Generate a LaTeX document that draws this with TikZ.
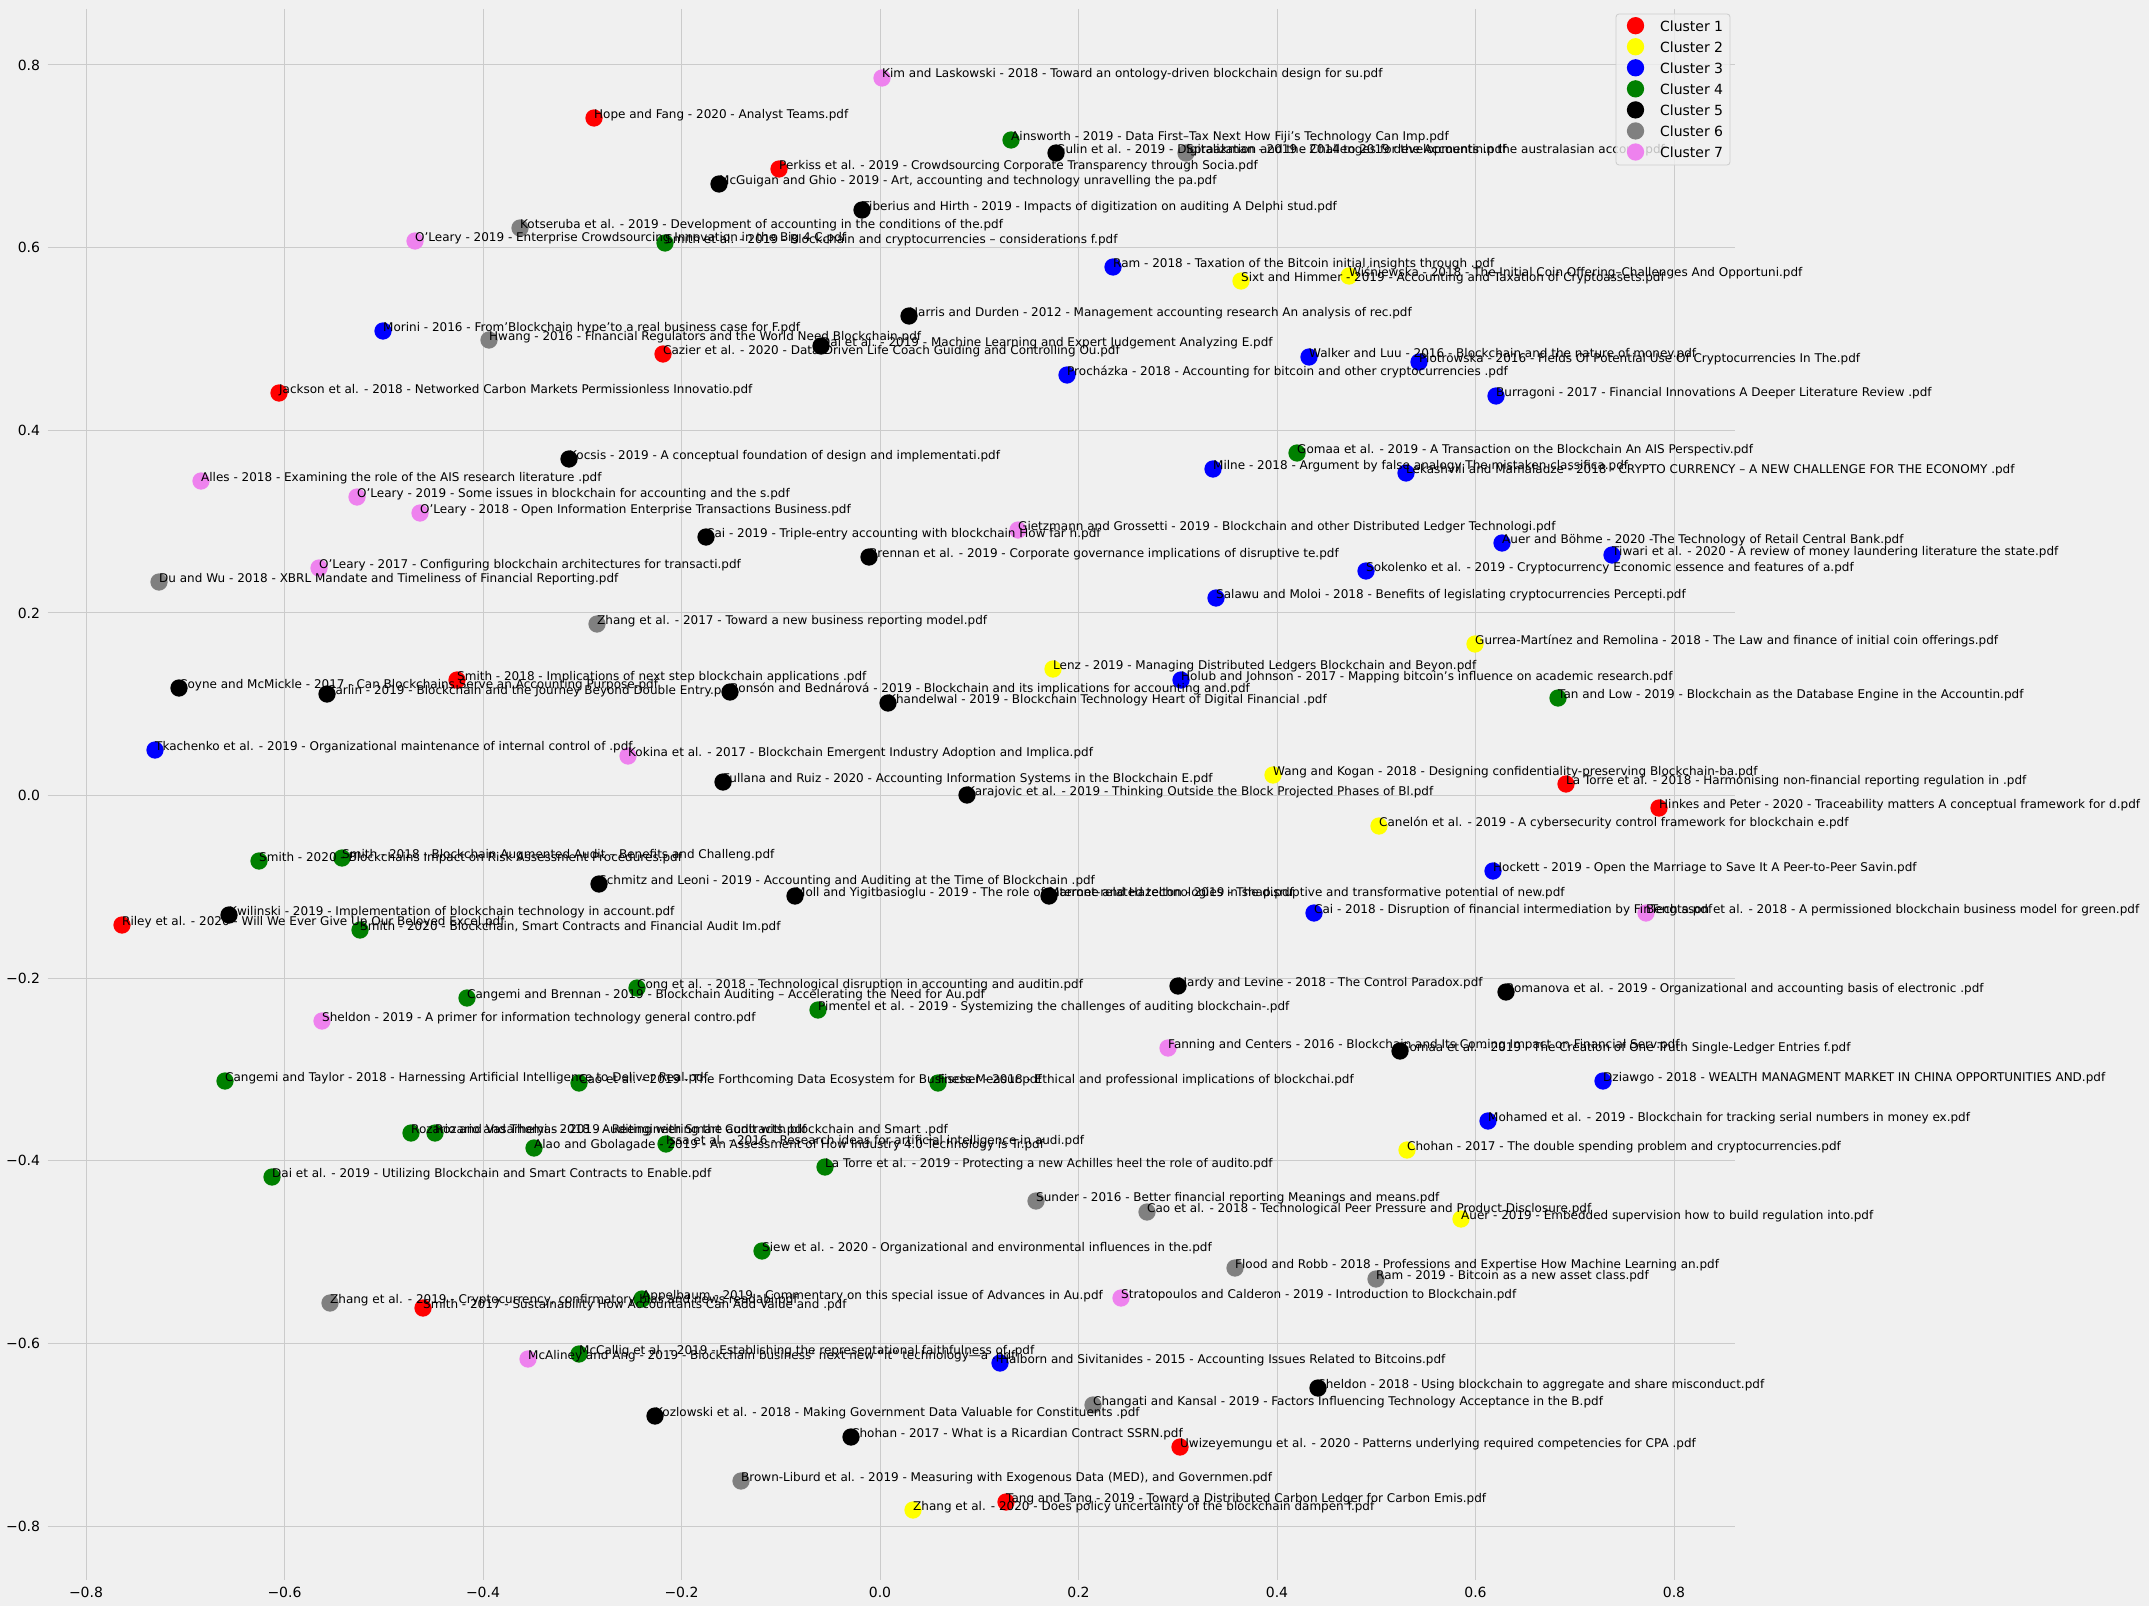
\documentclass[tikz,border=0pt]{standalone}
\usepackage{fontspec}
\setmainfont{DejaVu Sans}
\definecolor{bgc}{HTML}{F0F0F0}
\definecolor{gridc}{HTML}{CBCBCB}
\definecolor{legc}{HTML}{CCCCCC}
\definecolor{cred}{HTML}{FF0000}
\definecolor{cyellow}{HTML}{FFFF00}
\definecolor{cblue}{HTML}{0000FF}
\definecolor{cgreen}{HTML}{008000}
\definecolor{cgray}{HTML}{808080}
\definecolor{cviolet}{HTML}{EE82EE}
\newcommand\lblfont{\fontsize{12bp}{14bp}\selectfont}
\newcommand\tickfont{\fontsize{14bp}{16bp}\selectfont}
\newcommand\pts{%
\P{1}{882}{78}{cviolet}{Kim and Laskowski - 2018 - Toward an ontology-driven blockchain design for su.pdf}%
\P{2}{594}{118}{cred}{Hope and Fang - 2020 - Analyst Teams.pdf}%
\P{3}{1011}{140}{cgreen}{Ainsworth - 2019 - Data First–Tax Next How Fiji’s Technology Can Imp.pdf}%
\P{4}{1056}{153}{black}{Gulin et al. - 2019 - Digitalization and the Challenges for the Accountin.pdf}%
\P{5}{1186}{153}{cgray}{Spraakman - 2019 - 2014 to 2019 developments in the australasian accoun.pdf}%
\P{6}{779}{169}{cred}{Perkiss et al. - 2019 - Crowdsourcing Corporate Transparency through Socia.pdf}%
\P{7}{719}{184}{black}{McGuigan and Ghio - 2019 - Art, accounting and technology unravelling the pa.pdf}%
\P{8}{862}{210}{black}{Tiberius and Hirth - 2019 - Impacts of digitization on auditing A Delphi stud.pdf}%
\P{9}{520}{228}{cgray}{Kotseruba et al. - 2019 - Development of accounting in the conditions of the.pdf}%
\P{10}{415}{241}{cviolet}{O'Leary - 2019 - Enterprise Crowdsourcing Innovation in the Big 4 C.pdf}%
\P{11}{665}{243}{cgreen}{Smith et al. - 2019 - Blockchain and cryptocurrencies – considerations f.pdf}%
\P{12}{1113}{267}{cblue}{Ram - 2018 - Taxation of the Bitcoin initial insights through .pdf}%
\P{13}{1241}{281}{cyellow}{Sixt and Himmer - 2019 - Accounting and Taxation of Cryptoassets.pdf}%
\P{14}{1349}{276}{cyellow}{Wiśniewska - 2018 - The Initial Coin Offering–Challenges And Opportuni.pdf}%
\P{15}{909}{316}{black}{Harris and Durden - 2012 - Management accounting research An analysis of rec.pdf}%
\P{16}{383}{331}{cblue}{Morini - 2016 - From'Blockchain hype'to a real business case for F.pdf}%
\P{17}{489}{340}{cgray}{Hwang - 2016 - Financial Regulators and the World Need Blockchain.pdf}%
\P{18}{821}{346}{black}{Dai et al. - 2019 - Machine Learning and Expert Judgement Analyzing E.pdf}%
\P{19}{663}{354}{cred}{Cazier et al. - 2020 - Data-Driven Life Coach Guiding and Controlling Ou.pdf}%
\P{20}{1309}{357}{cblue}{Walker and Luu - 2016 - Blockchain and the nature of money.pdf}%
\P{21}{1419}{362}{cblue}{Piotrowska - 2016 - Fields Of Potential Use Of Cryptocurrencies In The.pdf}%
\P{22}{1067}{375}{cblue}{Procházka - 2018 - Accounting for bitcoin and other cryptocurrencies .pdf}%
\P{23}{279}{393}{cred}{Jackson et al. - 2018 - Networked Carbon Markets Permissionless Innovatio.pdf}%
\P{24}{1496}{396}{cblue}{Burragoni - 2017 - Financial Innovations A Deeper Literature Review .pdf}%
\P{25}{1297}{453}{cgreen}{Gomaa et al. - 2019 - A Transaction on the Blockchain An AIS Perspectiv.pdf}%
\P{26}{569}{459}{black}{Kocsis - 2019 - A conceptual foundation of design and implementati.pdf}%
\P{27}{1213}{469}{cblue}{Milne - 2018 - Argument by false analogy The mistaken classifica.pdf}%
\P{28}{1406}{473}{cblue}{Lekashvili and Mamaladze - 2018 - CRYPTO CURRENCY – A NEW CHALLENGE FOR THE ECONOMY .pdf}%
\P{29}{201}{481}{cviolet}{Alles - 2018 - Examining the role of the AIS research literature .pdf}%
\P{30}{357}{497}{cviolet}{O'Leary - 2019 - Some issues in blockchain for accounting and the s.pdf}%
\P{31}{420}{513}{cviolet}{O'Leary - 2018 - Open Information Enterprise Transactions Business.pdf}%
\P{32}{1018}{530}{cviolet}{Gietzmann and Grossetti - 2019 - Blockchain and other Distributed Ledger Technologi.pdf}%
\P{33}{706}{537}{black}{Cai - 2019 - Triple-entry accounting with blockchain How far h.pdf}%
\P{34}{1502}{543}{cblue}{Auer and Böhme - 2020 -The Technology of Retail Central Bank.pdf}%
\P{35}{1612}{555}{cblue}{Tiwari et al. - 2020 - A review of money laundering literature the state.pdf}%
\P{36}{869}{557}{black}{Brennan et al. - 2019 - Corporate governance implications of disruptive te.pdf}%
\P{37}{1366}{571}{cblue}{Sokolenko et al. - 2019 - Cryptocurrency Economic essence and features of a.pdf}%
\P{38}{319}{568}{cviolet}{O'Leary - 2017 - Configuring blockchain architectures for transacti.pdf}%
\P{39}{159}{582}{cgray}{Du and Wu - 2018 - XBRL Mandate and Timeliness of Financial Reporting.pdf}%
\P{40}{1216}{598}{cblue}{Salawu and Moloi - 2018 - Benefits of legislating cryptocurrencies Percepti.pdf}%
\P{41}{597}{624}{cgray}{Zhang et al. - 2017 - Toward a new business reporting model.pdf}%
\P{42}{1475}{644}{cyellow}{Gurrea-Martínez and Remolina - 2018 - The Law and finance of initial coin offerings.pdf}%
\P{43}{1053}{669}{cyellow}{Lenz - 2019 - Managing Distributed Ledgers Blockchain and Beyon.pdf}%
\P{44}{1181}{680}{cblue}{Holub and Johnson - 2017 - Mapping bitcoin's influence on academic research.pdf}%
\P{45}{457}{680}{cred}{Smith - 2018 - Implications of next step blockchain applications .pdf}%
\P{46}{179}{688}{black}{Coyne and McMickle - 2017 - Can Blockchains Serve an Accounting Purpose.pdf}%
\P{47}{327}{694}{black}{Carlin - 2019 - Blockchain and the Journey Beyond Double Entry.pdf}%
\P{48}{730}{692}{black}{Bonsón and Bednárová - 2019 - Blockchain and its implications for accounting and.pdf}%
\P{49}{888}{703}{black}{Khandelwal - 2019 - Blockchain Technology Heart of Digital Financial .pdf}%
\P{50}{1558}{698}{cgreen}{Tan and Low - 2019 - Blockchain as the Database Engine in the Accountin.pdf}%
\P{51}{155}{750}{cblue}{Tkachenko et al. - 2019 - Organizational maintenance of internal control of .pdf}%
\P{52}{628}{756}{cviolet}{Kokina et al. - 2017 - Blockchain Emergent Industry Adoption and Implica.pdf}%
\P{53}{1273}{775}{cyellow}{Wang and Kogan - 2018 - Designing confidentiality-preserving Blockchain-ba.pdf}%
\P{54}{723}{782}{black}{Fullana and Ruiz - 2020 - Accounting Information Systems in the Blockchain E.pdf}%
\P{55}{1566}{784}{cred}{La Torre et al. - 2018 - Harmonising non-financial reporting regulation in .pdf}%
\P{56}{967}{795}{black}{Karajovic et al. - 2019 - Thinking Outside the Block Projected Phases of Bl.pdf}%
\P{57}{1659}{808}{cred}{Hinkes and Peter - 2020 - Traceability matters A conceptual framework for d.pdf}%
\P{58}{1379}{826}{cyellow}{Canelón et al. - 2019 - A cybersecurity control framework for blockchain e.pdf}%
\P{59}{259}{861}{cgreen}{Smith - 2020 - Blockchains Impact on Risk Assessment Procedures.pdf}%
\P{60}{342}{858}{cgreen}{Smith - 2018 - Blockchain Augmented Audit – Benefits and Challeng.pdf}%
\P{61}{1493}{871}{cblue}{Hockett - 2019 - Open the Marriage to Save It A Peer-to-Peer Savin.pdf}%
\P{62}{599}{884}{black}{Schmitz and Leoni - 2019 - Accounting and Auditing at the Time of Blockchain .pdf}%
\P{63}{795}{896}{black}{Moll and Yigitbasioglu - 2019 - The role of internet-related technologies in shap.pdf}%
\P{64}{1049}{896}{black}{Marrone and Hazelton - 2019 - The disruptive and transformative potential of new.pdf}%
\P{65}{229}{915}{black}{Kwilinski - 2019 - Implementation of blockchain technology in account.pdf}%
\P{66}{1314}{913}{cblue}{Cai - 2018 - Disruption of financial intermediation by FinTech a.pdf}%
\P{67}{1646}{913}{cviolet}{Bengtsson et al. - 2018 - A permissioned blockchain business model for green.pdf}%
\P{68}{122}{925}{cred}{Riley et al. - 2020 - Will We Ever Give Up Our Beloved Excel.pdf}%
\P{69}{360}{930}{cgreen}{Smith - 2020 - Blockchain, Smart Contracts and Financial Audit Im.pdf}%
\P{70}{1178}{986}{black}{Hardy and Levine - 2018 - The Control Paradox.pdf}%
\P{71}{1506}{992}{black}{Romanova et al. - 2019 - Organizational and accounting basis of electronic .pdf}%
\P{72}{637}{988}{cgreen}{Cong et al. - 2018 - Technological disruption in accounting and auditin.pdf}%
\P{73}{467}{998}{cgreen}{Cangemi and Brennan - 2019 - Blockchain Auditing – Accelerating the Need for Au.pdf}%
\P{74}{818}{1010}{cgreen}{Pimentel et al. - 2019 - Systemizing the challenges of auditing blockchain-.pdf}%
\P{75}{322}{1021}{cviolet}{Sheldon - 2019 - A primer for information technology general contro.pdf}%
\P{76}{1168}{1048}{cviolet}{Fanning and Centers - 2016 - Blockchain and Its Coming Impact on Financial Serv.pdf}%
\P{77}{1400}{1051}{black}{Gomaa et al. - 2019 - The Creation of One Truth Single-Ledger Entries f.pdf}%
\P{78}{225}{1081}{cgreen}{Cangemi and Taylor - 2018 - Harnessing Artificial Intelligence to Deliver Real.pdf}%
\P{79}{579}{1083}{cgreen}{Cao et al. - 2019 - The Forthcoming Data Ecosystem for Business Measur.pdf}%
\P{80}{938}{1083}{cgreen}{Fischer - 2018 - Ethical and professional implications of blockchai.pdf}%
\P{81}{1603}{1081}{cblue}{Dziawgo - 2018 - WEALTH MANAGMENT MARKET IN CHINA OPPORTUNITIES AND.pdf}%
\P{82}{1488}{1121}{cblue}{Mohamed et al. - 2019 - Blockchain for tracking serial numbers in money ex.pdf}%
\P{83}{411}{1133}{cgreen}{Rozario and Vasarhelyi - 2018 - Auditing with Smart Contracts.pdf}%
\P{84}{435}{1133}{cgreen}{Rozario and Thomas - 2019 - Reengineering the audit with blockchain and Smart .pdf}%
\P{85}{534}{1148}{cgreen}{Alao and Gbolagade - 2019 - An Assessment of How Industry 4.0 Technology is Tr.pdf}%
\P{86}{666}{1144}{cgreen}{Issa et al. - 2016 - Research ideas for artificial intelligence in audi.pdf}%
\P{87}{1407}{1150}{cyellow}{Chohan - 2017 - The double spending problem and cryptocurrencies.pdf}%
\P{88}{825}{1167}{cgreen}{La Torre et al. - 2019 - Protecting a new Achilles heel the role of audito.pdf}%
\P{89}{272}{1177}{cgreen}{Dai et al. - 2019 - Utilizing Blockchain and Smart Contracts to Enable.pdf}%
\P{90}{1036}{1201}{cgray}{Sunder - 2016 - Better financial reporting Meanings and means.pdf}%
\P{91}{1147}{1212}{cgray}{Cao et al. - 2018 - Technological Peer Pressure and Product Disclosure.pdf}%
\P{92}{1461}{1219}{cyellow}{Auer - 2019 - Embedded supervision how to build regulation into.pdf}%
\P{93}{762}{1251}{cgreen}{Siew et al. - 2020 - Organizational and environmental influences in the.pdf}%
\P{94}{1235}{1268}{cgray}{Flood and Robb - 2018 - Professions and Expertise How Machine Learning an.pdf}%
\P{95}{1376}{1279}{cgray}{Ram - 2019 - Bitcoin as a new asset class.pdf}%
\P{96}{642}{1299}{cgreen}{Appelbaum - 2019 - Commentary on this special issue of Advances in Au.pdf}%
\P{97}{330}{1303}{cgray}{Zhang et al. - 2019 - Cryptocurrency, confirmatory bias and news readabi.pdf}%
\P{98}{423}{1308}{cred}{Smith - 2017 - Sustainability How Accountants Can Add Value and .pdf}%
\P{99}{1121}{1298}{cviolet}{Stratopoulos and Calderon - 2019 - Introduction to Blockchain.pdf}%
\P{100}{579}{1354}{cgreen}{McCallig et al. - 2019 - Establishing the representational faithfulness of .pdf}%
\P{101}{528}{1359}{cviolet}{McAliney and Ang - 2019 - Blockchain business’ next new “it” technology—a .pdf}%
\P{102}{1000}{1363}{cblue}{Halborn and Sivitanides - 2015 - Accounting Issues Related to Bitcoins.pdf}%
\P{103}{1318}{1388}{black}{Sheldon - 2018 - Using blockchain to aggregate and share misconduct.pdf}%
\P{104}{1093}{1405}{cgray}{Changati and Kansal - 2019 - Factors Influencing Technology Acceptance in the B.pdf}%
\P{105}{655}{1416}{black}{Kozlowski et al. - 2018 - Making Government Data Valuable for Constituents .pdf}%
\P{106}{851}{1437}{black}{Chohan - 2017 - What is a Ricardian Contract SSRN.pdf}%
\P{107}{1180}{1447}{cred}{Uwizeyemungu et al. - 2020 - Patterns underlying required competencies for CPA .pdf}%
\P{108}{741}{1481}{cgray}{Brown-Liburd et al. - 2019 - Measuring with Exogenous Data (MED), and Governmen.pdf}%
\P{109}{1006}{1502}{cred}{Tang and Tang - 2019 - Toward a Distributed Carbon Ledger for Carbon Emis.pdf}%
\P{110}{913}{1510}{cyellow}{Zhang et al. - 2020 - Does policy uncertainty of the blockchain dampen f.pdf}%
}
\begin{document}
\begin{tikzpicture}[x=1bp,y=-1bp,
  pdot/.style={circle,fill=#1,draw=none,inner sep=0pt,minimum size=17.3bp},
  lbl/.style={anchor=base west,inner sep=0pt,font=\lblfont,text=black},
  ticklbl/.style={inner sep=0pt,font=\tickfont,text=black},
  gridline/.style={draw=gridc,line width=1bp}]
\useasboundingbox[fill=bgc] (0,0) rectangle (2149,1606);
% grid
\foreach \gx in {86,284.5,483,681.5,880,1078.5,1277,1475.5,1674}
  \draw[gridline] (\gx,9) -- (\gx,1580);
\foreach \gy in {65,247.6,430.2,612.9,795.5,978.1,1160.8,1343.4,1526}
  \draw[gridline] (47.5,\gy) -- (1734.5,\gy);
% tick labels
\foreach \v/\gx [count=\i] in {−0.8/86,−0.6/284.5,−0.4/483,−0.2/681.5,0.0/880,0.2/1078.5,0.4/1277,0.6/1475.5,0.8/1674}
  \node[ticklbl,anchor=base] (xt\i) at (\gx,1597.7) {\v};
\foreach \v/\gy [count=\i] in {0.8/65,0.6/247.6,0.4/430.2,0.2/612.9,0.0/795.5,−0.2/978.1,−0.4/1160.8,−0.6/1343.4,−0.8/1526}
  \node[ticklbl,anchor=east] (yt\i) at (40.3,\gy) {\v};
% dots
\def\P#1#2#3#4#5{\node[pdot=#4] (d#1) at (#2,#3) {};}
\pts
% labels
\def\P#1#2#3#4#5{\node[lbl] (t#1) at (#2,#3) {#5};}
\pts
% legend
\draw[draw=legc,fill=bgc,fill opacity=0.8,line width=0.8bp,rounded corners=3bp] (1616,14) rectangle (1730,165);
\foreach \c [count=\i] in {cred,cyellow,cblue,cgreen,black,cgray,cviolet} {
  \pgfmathsetmacro\yy{25.7+21.05*(\i-1)}
  \node[pdot=\c] (lg\i) at (1635.5,\yy) {};
  \node[ticklbl,anchor=west] (lgt\i) at (1659.9,\yy+0.5) {Cluster \i};
}
\end{tikzpicture}
\end{document}
